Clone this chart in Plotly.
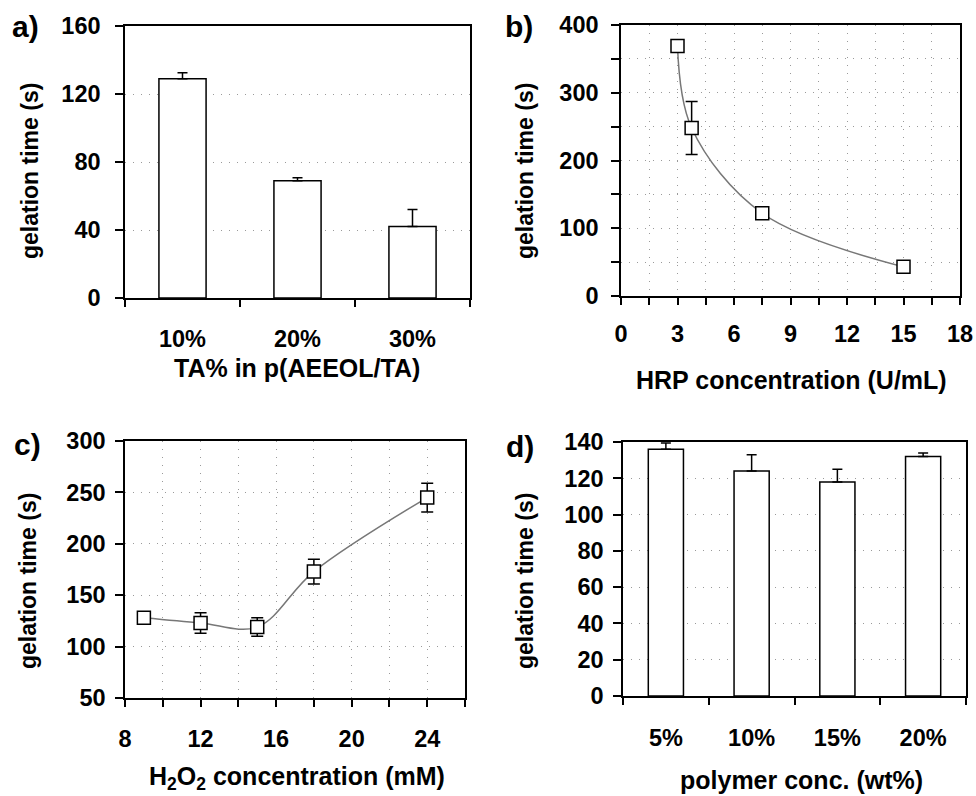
import plotly.graph_objects as go

# ---------------- data ----------------
# Panel a
a_cats = ["10%", "20%", "30%"]
a_vals = [129, 69, 42]
a_err = [3.5, 1.7, 10]

# Panel b
b_x = [3, 3.75, 7.5, 15]
b_y = [369, 248, 122, 43]
b_err = [0, 39, 0, 0]

# Panel c
c_x = [9, 12, 15, 18, 24]
c_y = [128, 123, 119, 173, 245]
c_err = [0, 10, 9, 12, 14]

# Panel d
d_cats = ["5%", "10%", "15%", "20%"]
d_vals = [136, 124, 118, 132]
d_err = [3.5, 9, 7, 2]

FONT = "Arial, Liberation Sans, sans-serif"
W, H = 976, 796
GRID = "#9a9a9a"
DOT = "1px,7px"

def px(x0, x1):
    return [x0 / W, x1 / W]

def py(top, bottom):
    return [1 - bottom / H, 1 - top / H]

fig = go.Figure()

err_up = lambda arr: dict(type="data", array=arr, arrayminus=[0] * len(arr), symmetric=False,
                          color="black", thickness=1.5, width=5)
err_sym = lambda arr: dict(type="data", array=arr, visible=True, color="black", thickness=1.5, width=6)

fig.add_trace(go.Bar(x=a_cats, y=a_vals, error_y=err_up(a_err), width=0.41,
                     marker=dict(color="white", line=dict(color="black", width=1.5)),
                     xaxis="x", yaxis="y", showlegend=False))
fig.add_trace(go.Scatter(x=b_x, y=b_y, error_y=err_sym(b_err), mode="lines+markers",
                         line=dict(color="#777777", width=1.5, shape="spline", smoothing=1),
                         marker=dict(symbol="square", size=13, color="white",
                                     line=dict(color="black", width=1.5)),
                         xaxis="x2", yaxis="y2", showlegend=False))
fig.add_trace(go.Scatter(x=c_x, y=c_y, error_y=err_sym(c_err), mode="lines+markers",
                         line=dict(color="#777777", width=1.5, shape="spline", smoothing=1),
                         marker=dict(symbol="square", size=13, color="white",
                                     line=dict(color="black", width=1.5)),
                         xaxis="x3", yaxis="y3", showlegend=False))
fig.add_trace(go.Bar(x=d_cats, y=d_vals, error_y=err_up(d_err), width=0.41,
                     marker=dict(color="white", line=dict(color="black", width=1.5)),
                     xaxis="x4", yaxis="y4", showlegend=False))

tickfont = dict(family=FONT, size=23.5, color="black", weight="bold")
common = dict(showline=True, mirror=True, linecolor="black", linewidth=1.5,
              ticks="outside", tickcolor="black", tickwidth=1.5, tickfont=tickfont,
              zeroline=False, fixedrange=True, automargin=False)

fig.update_layout(
    template="none",
    width=W, height=H, margin=dict(l=0, r=0, t=0, b=0, autoexpand=False),
    paper_bgcolor="white", plot_bgcolor="white", bargap=0.59,
    font=dict(family=FONT, color="black"),
    # panel a
    xaxis=dict(domain=px(125, 470), anchor="y", type="category", tickson="boundaries",
               ticklen=7, showgrid=False, ticklabelstandoff=19, **common),
    yaxis=dict(domain=py(26, 298), anchor="x", range=[0, 160], dtick=40, ticklen=8,
               showgrid=True, gridcolor=GRID, griddash=DOT, gridwidth=1,
               ticklabelstandoff=10, **common),
    # panel b
    xaxis2=dict(domain=px(621, 960), anchor="y2", range=[0, 18], dtick=3, ticklen=7,
                showgrid=True, gridcolor=GRID, griddash=DOT,
                minor=dict(dtick=1.5, ticks="outside", ticklen=7, tickcolor="black",
                           showgrid=True, gridcolor=GRID, griddash=DOT),
                ticklabelstandoff=9, **common),
    yaxis2=dict(domain=py(25, 296), anchor="x2", range=[0, 400], dtick=100, ticklen=8,
                showgrid=True, gridcolor=GRID, griddash=DOT,
                minor=dict(dtick=50, ticks="outside", ticklen=8, tickcolor="black",
                           showgrid=True, gridcolor=GRID, griddash=DOT),
                ticklabelstandoff=8, **common),
    # panel c
    xaxis3=dict(domain=px(125, 465), anchor="y3", range=[8, 26], tickvals=[8, 12, 16, 20, 24],
                ticklen=7, showgrid=True, gridcolor=GRID, griddash=DOT,
                minor=dict(dtick=2, ticks="outside", ticklen=7, tickcolor="black",
                           showgrid=True, gridcolor=GRID, griddash=DOT),
                ticklabelstandoff=12, **common),
    yaxis3=dict(domain=py(441, 698), anchor="x3", range=[50, 300], dtick=50, ticklen=8,
                showgrid=True, gridcolor=GRID, griddash=DOT,
                ticklabelstandoff=5, **common),
    # panel d
    xaxis4=dict(domain=px(623, 966), anchor="y4", type="category", tickson="boundaries",
                ticklen=7, showgrid=False, ticklabelstandoff=20, **common),
    yaxis4=dict(domain=py(442, 696), anchor="x4", range=[0, 140], dtick=20, ticklen=8,
                showgrid=True, gridcolor=GRID, griddash=DOT,
                ticklabelstandoff=5, **common),
)

xtitlefont = dict(family=FONT, size=25, color="black", weight="bold")
ytitlefont = dict(family=FONT, size=23, color="black", weight="bold")
labelfont = dict(family=FONT, size=30, color="black", weight="bold")

def ann(text, x, y, font, angle=0):
    fig.add_annotation(text=text, x=x / W, y=1 - y / H, xref="paper", yref="paper",
                       showarrow=False, font=font, textangle=angle,
                       xanchor="center", yanchor="middle")

# x titles
ann("TA% in p(AEEOL/TA)", 297, 368, xtitlefont)
ann("HRP concentration (U/mL)", 791, 380, xtitlefont)
ann("H<sub>2</sub>O<sub>2</sub> concentration (mM)", 297, 778, xtitlefont)
ann("polymer conc. (wt%)", 801, 780, xtitlefont)
# y titles
ann("gelation time (s)", 30, 171, ytitlefont, -90)
ann("gelation time (s)", 525, 171, ytitlefont, -90)
ann("gelation time (s)", 28, 581, ytitlefont, -90)
ann("gelation time (s)", 525, 581, ytitlefont, -90)
# panel labels
ann("a)", 25, 27, labelfont)
ann("b)", 519, 27, labelfont)
ann("c)", 27, 445, labelfont)
ann("d)", 520, 446, labelfont)

fig.write_html("out.html", config={"displayModeBar": False},
               post_script="document.body.style.margin='0px';")
